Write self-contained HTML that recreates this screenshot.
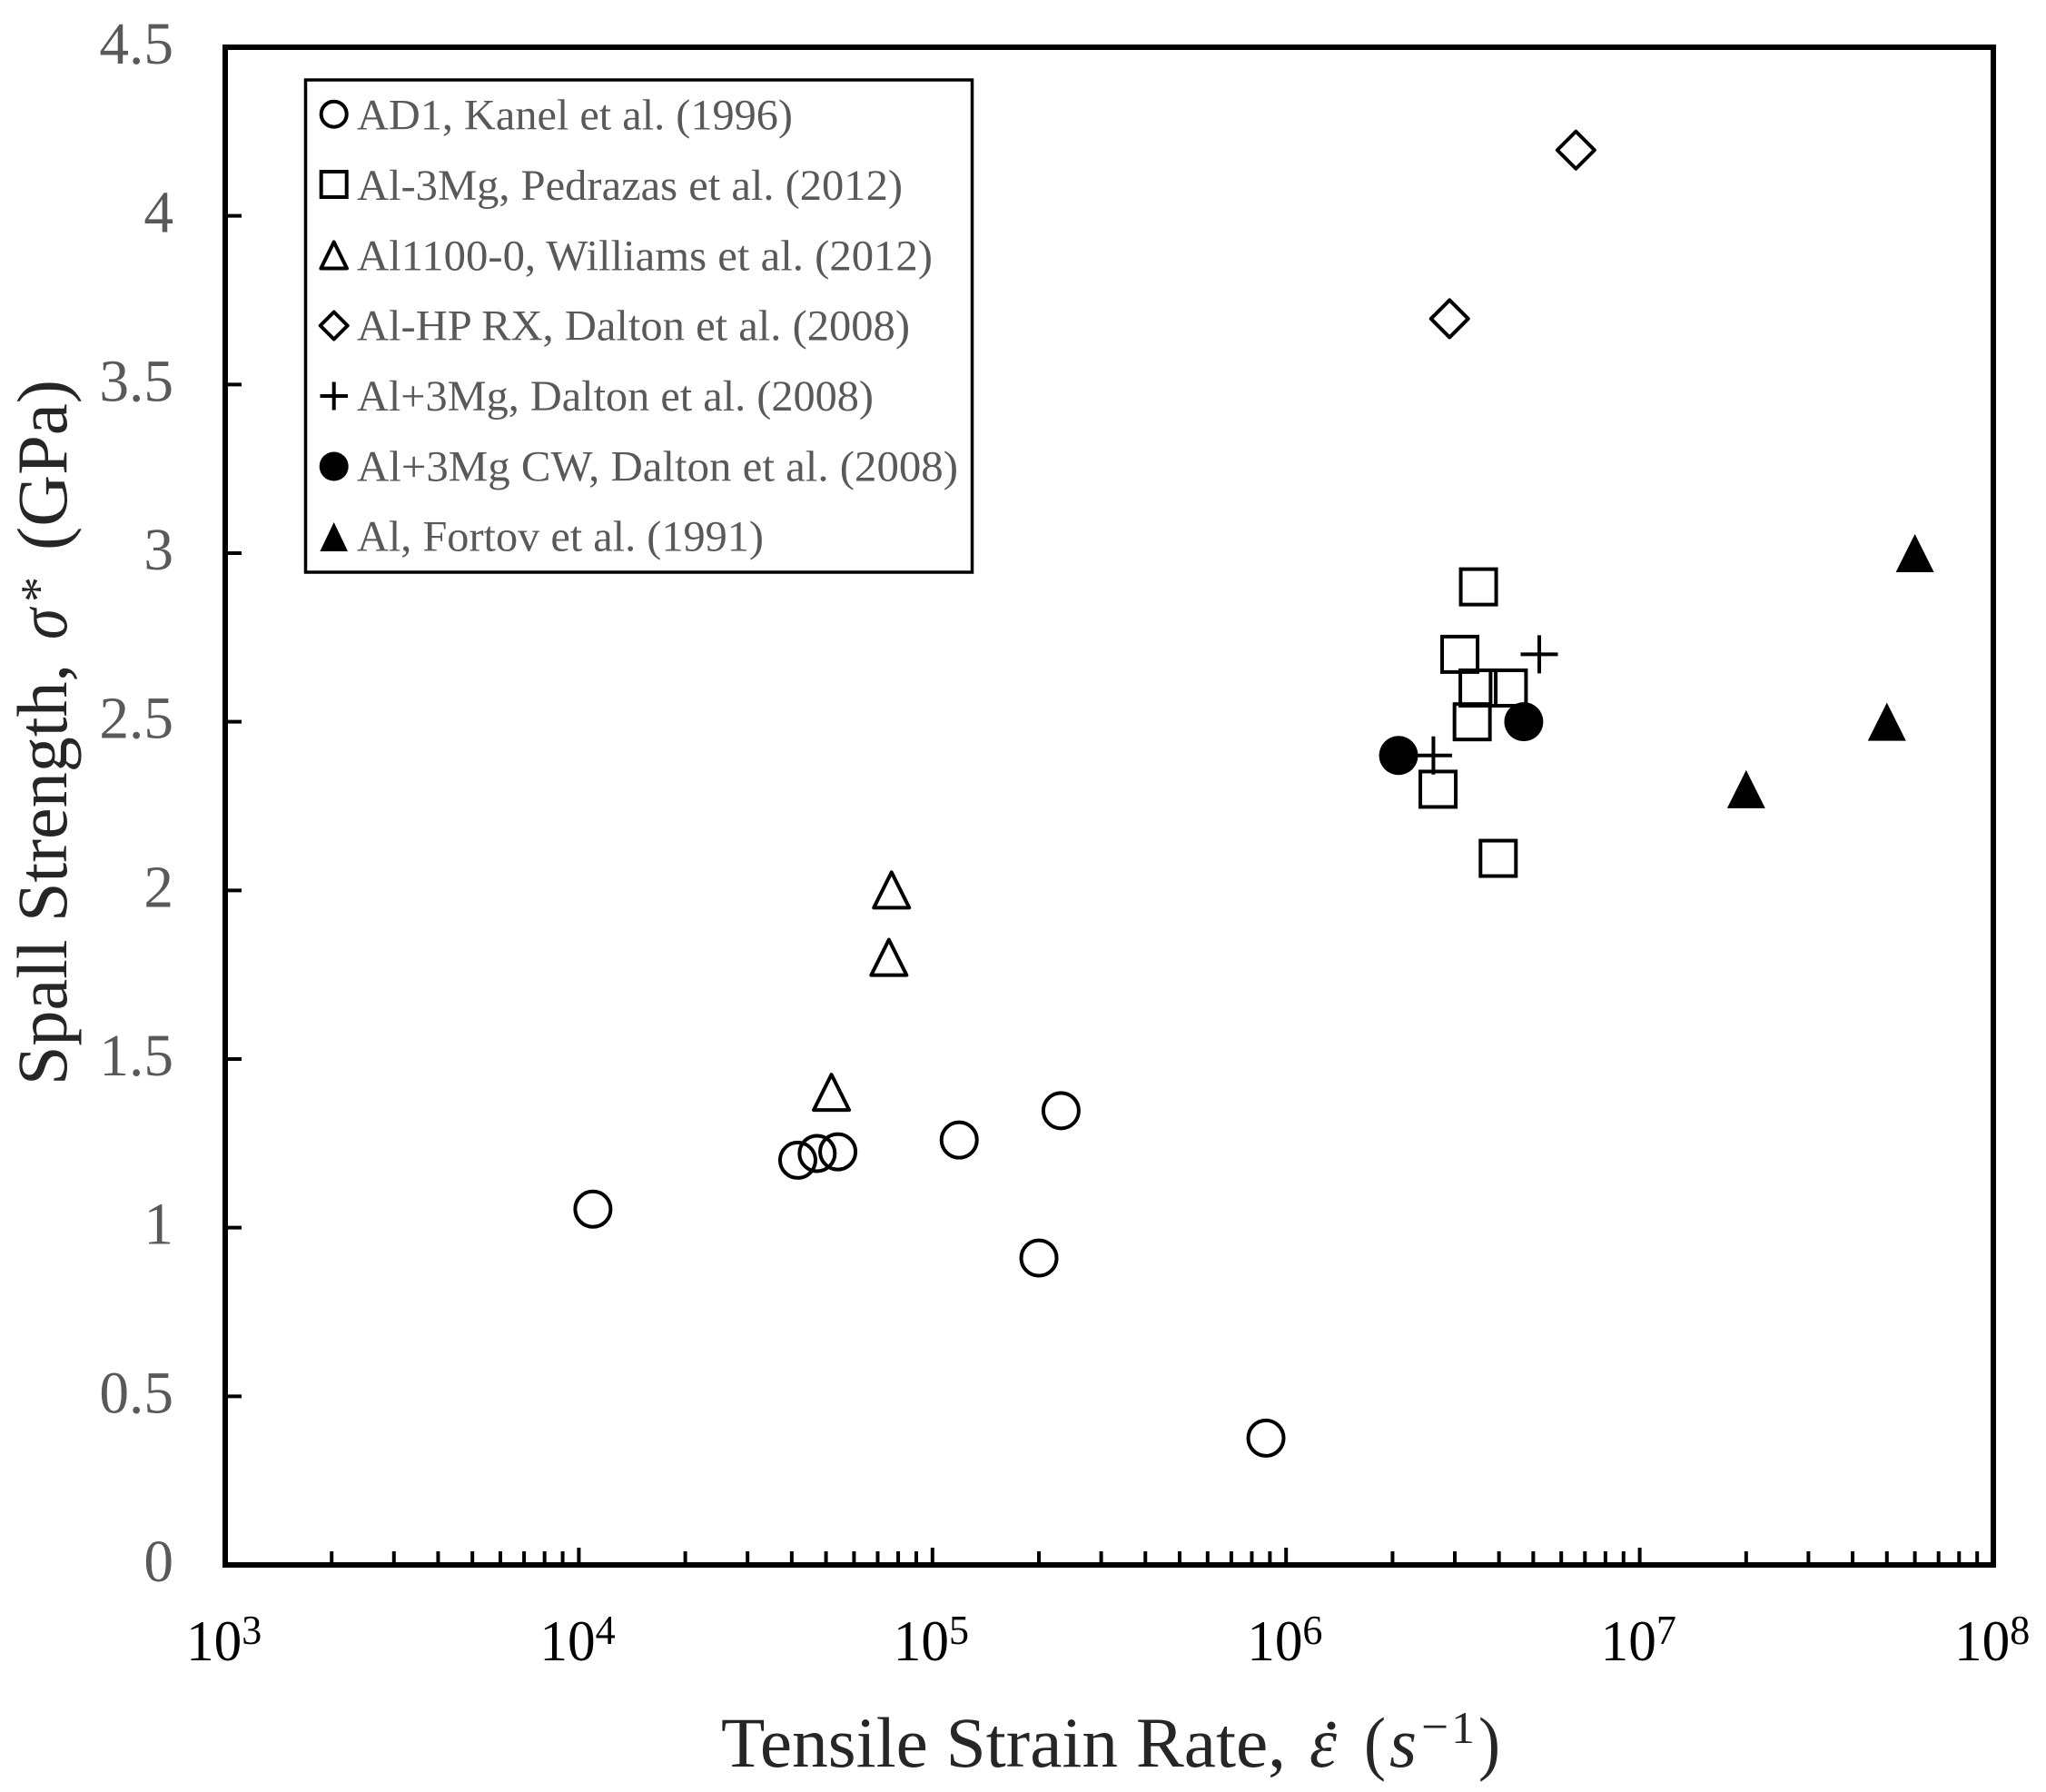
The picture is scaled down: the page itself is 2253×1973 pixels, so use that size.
<!DOCTYPE html>
<html lang="en">
<head>
<meta charset="utf-8">
<title>Spall Strength vs Tensile Strain Rate</title>
<style>
html,body{margin:0;padding:0;background:#fff;}
svg{display:block;}
text{font-family:"Liberation Serif",serif;}
.title{fill:#262626;font-size:78px;}
.legend{fill:#595959;font-size:48px;}
</style>
</head>
<body>
<svg id="chart" xmlns="http://www.w3.org/2000/svg" width="2253" height="1973" viewBox="0 0 2253 1973">
  <rect x="0" y="0" width="2253" height="1973" fill="#fff"/>
  <g id="ticks"></g>
  <g id="labels"></g>
  <g id="marks"></g>
  <rect x="248" y="52" width="1947" height="1671" fill="none" stroke="#000" stroke-width="6"/>

  <g class="title">
    <text x="794" y="1945" textLength="622" lengthAdjust="spacingAndGlyphs">Tensile Strain Rate,</text>
    <text x="1442" y="1945" font-style="italic" textLength="30" lengthAdjust="spacingAndGlyphs">ε</text>
    <circle cx="1466" cy="1900" r="4.5" fill="#262626"/>
    <text x="1502" y="1945" textLength="24" lengthAdjust="spacingAndGlyphs">(</text>
    <text x="1530" y="1945" font-style="italic" textLength="30" lengthAdjust="spacingAndGlyphs">s</text>
    <text x="1565" y="1919" font-size="54" textLength="30" lengthAdjust="spacingAndGlyphs">−</text>
    <text x="1598" y="1919" font-size="50" textLength="26" lengthAdjust="spacingAndGlyphs">1</text>
    <text x="1628" y="1945" textLength="24" lengthAdjust="spacingAndGlyphs">)</text>
  </g>

  <g class="title">
    <text transform="translate(73,1195) rotate(-90)" textLength="464" lengthAdjust="spacingAndGlyphs">Spall Strength,</text>
    <text transform="translate(73,704) rotate(-90)" font-style="italic" textLength="34" lengthAdjust="spacingAndGlyphs">σ</text>
    <text transform="translate(61,663) rotate(-90)" font-size="56" textLength="28" lengthAdjust="spacingAndGlyphs">*</text>
    <text transform="translate(73,606) rotate(-90)" textLength="188" lengthAdjust="spacingAndGlyphs">(GPa)</text>
  </g>

  <g>
    <rect x="336.5" y="88" width="734" height="542" fill="#fff" stroke="#000" stroke-width="3.5"/>
    <g>
      <circle cx="367.7" cy="125.7" r="14" fill="none" stroke="#000" stroke-width="4"/>
      <text class="legend" x="393" y="142.7" textLength="480" lengthAdjust="spacingAndGlyphs">AD1, Kanel et al. (1996)</text>
    </g>
    <g>
      <rect x="353.7" y="189" width="28" height="28" fill="none" stroke="#000" stroke-width="4"/>
      <text class="legend" x="393" y="220" textLength="601" lengthAdjust="spacingAndGlyphs">Al-3Mg, Pedrazas et al. (2012)</text>
    </g>
    <g>
      <polygon points="367.7,266.5 382,295.5 353.4,295.5" fill="none" stroke="#000" stroke-width="4" stroke-linejoin="round"/>
      <text class="legend" x="393" y="297.3" textLength="634" lengthAdjust="spacingAndGlyphs">Al1100-0, Williams et al. (2012)</text>
    </g>
    <g>
      <polygon points="367.7,343.5 382.7,358.5 367.7,373.5 352.7,358.5" fill="none" stroke="#000" stroke-width="4" stroke-linejoin="round"/>
      <text class="legend" x="393" y="374.6" textLength="609" lengthAdjust="spacingAndGlyphs">Al-HP RX, Dalton et al. (2008)</text>
    </g>
    <g>
      <path d="M352.5 436H383M367.7 420.5V451.5" fill="none" stroke="#000" stroke-width="4"/>
      <text class="legend" x="393" y="452" textLength="569" lengthAdjust="spacingAndGlyphs">Al+3Mg, Dalton et al. (2008)</text>
    </g>
    <g>
      <circle cx="367.7" cy="513.5" r="16" fill="#000"/>
      <text class="legend" x="393" y="529.3" textLength="662" lengthAdjust="spacingAndGlyphs">Al+3Mg CW, Dalton et al. (2008)</text>
    </g>
    <g>
      <polygon points="367.7,575 383,607 352.4,607" fill="#000"/>
      <text class="legend" x="393" y="606.6" textLength="448" lengthAdjust="spacingAndGlyphs">Al, Fortov et al. (1991)</text>
    </g>
  </g>
</svg>
<script>
// Chart data
const kanelRate = [1.096e4, 4.16e4, 4.72e4, 5.4e4, 1.19e5, 2.31e5, 2.0e5, 8.77e5];
const kanelStrength = [1.055, 1.2, 1.22, 1.225, 1.26, 1.347, 0.91, 0.376];
const pedrazasRate = [3.5e6, 3.1e6, 3.49e6, 4.25e6, 3.36e6, 2.69e6, 3.98e6];
const pedrazasStrength = [2.9, 2.7, 2.6, 2.6, 2.5, 2.3, 2.095];
const williamsRate = [7.66e4, 7.53e4, 5.18e4];
const williamsStrength = [2.0, 1.8, 1.4];
const daltonHpRate = [6.6e6, 2.9e6];
const daltonHpStrength = [4.195, 3.695];
const daltonMgRate = [5.2e6, 2.61e6];
const daltonMgStrength = [2.7, 2.4];
const daltonCwRate = [4.7e6, 2.08e6];
const daltonCwStrength = [2.5, 2.4];
const fortovRate = [6.0e7, 5.0e7, 2.0e7];
const fortovStrength = [3.0, 2.5, 2.3];
const yTickValues = [4.5, 4, 3.5, 3, 2.5, 2, 1.5, 1, 0.5, 0];
const yTickLabels = ['4.5', '4', '3.5', '3', '2.5', '2', '1.5', '1', '0.5', '0'];
const xTickExponents = [3, 4, 5, 6, 7, 8];
const xMinorMultipliers = [2, 3, 4, 5, 6, 7, 8, 9];

const SVG_NS = 'http://www.w3.org/2000/svg';
const plotLeft = 248, plotRight = 2195, plotTop = 52, plotBottom = 1723;
const xMinLog = 3, xMaxLog = 8, yMin = 0, yMax = 4.5;

function xScale(rate) {
  return plotLeft + (Math.log10(rate) - xMinLog) / (xMaxLog - xMinLog) * (plotRight - plotLeft);
}
function yScale(strength) {
  return plotBottom - (strength - yMin) / (yMax - yMin) * (plotBottom - plotTop);
}
function shapeFor(kind, x, y) {
  let el;
  if (kind === 'circle' || kind === 'filled-circle') {
    el = document.createElementNS(SVG_NS, 'circle');
    el.setAttribute('cx', x);
    el.setAttribute('cy', y);
    el.setAttribute('r', kind === 'circle' ? 19.5 : 21.5);
  } else if (kind === 'square') {
    el = document.createElementNS(SVG_NS, 'rect');
    el.setAttribute('x', x - 19.5);
    el.setAttribute('y', y - 19.5);
    el.setAttribute('width', 39);
    el.setAttribute('height', 39);
  } else if (kind === 'triangle') {
    el = document.createElementNS(SVG_NS, 'polygon');
    el.setAttribute('points', [x, y - 20, x + 19.5, y + 19, x - 19.5, y + 19].join(' '));
  } else if (kind === 'filled-triangle') {
    el = document.createElementNS(SVG_NS, 'polygon');
    el.setAttribute('points', [x, y - 21, x + 21, y + 21, x - 21, y + 21].join(' '));
  } else if (kind === 'diamond') {
    el = document.createElementNS(SVG_NS, 'polygon');
    el.setAttribute('points', [x, y - 20.5, x + 20.5, y, x, y + 20.5, x - 20.5, y].join(' '));
  } else {
    el = document.createElementNS(SVG_NS, 'path');
    el.setAttribute('d', 'M' + (x - 20.5) + ' ' + y + 'H' + (x + 20.5) + 'M' + x + ' ' + (y - 21) + 'V' + (y + 21));
  }
  const filled = kind.indexOf('filled') === 0;
  el.setAttribute('fill', filled ? '#000' : 'none');
  el.setAttribute('stroke', filled ? 'none' : '#000');
  el.setAttribute('stroke-width', 4);
  el.setAttribute('stroke-linejoin', kind === 'square' ? 'miter' : 'round');
  return el;
}
function drawSeries(name, kind, rates, strengths) {
  const marks = document.getElementById('marks');
  const group = document.createElementNS(SVG_NS, 'g');
  
  
  rates.forEach(function (rate, i) {
    const el = shapeFor(kind, xScale(rate), yScale(strengths[i]));
    
    
    group.appendChild(el);
  });
  marks.appendChild(group);
}
function drawTickLine(x1, y1, x2, y2, name) {
  const line = document.createElementNS(SVG_NS, 'line');
  line.setAttribute('x1', x1);
  line.setAttribute('y1', y1);
  line.setAttribute('x2', x2);
  line.setAttribute('y2', y2);
  line.setAttribute('stroke', '#000');
  line.setAttribute('stroke-width', 4);
  
  
  document.getElementById('ticks').appendChild(line);
}
function drawAxes() {
  const labels = document.getElementById('labels');
  yTickValues.forEach(function (value, i) {
    const y = yScale(value);
    if (value > yMin && value < yMax) {
      drawTickLine(plotLeft, y, plotLeft + 18, y, 'y-tick');
    }
    const t = document.createElementNS(SVG_NS, 'text');
    t.setAttribute('transform', 'translate(191,' + (y + 18) + ') scale(0.99,1)');
    t.setAttribute('text-anchor', 'end');
    t.setAttribute('font-size', 66);
    t.setAttribute('fill', '#595959');
    
    
    t.textContent = yTickLabels[i];
    labels.appendChild(t);
  });
  xTickExponents.forEach(function (exp) {
    const base = Math.pow(10, exp);
    const x = xScale(base);
    if (exp > xMinLog && exp < xMaxLog) {
      drawTickLine(x, plotBottom, x, plotBottom - 19, 'x-major-tick');
    }
    if (exp < xMaxLog) {
      xMinorMultipliers.forEach(function (m) {
        const mx = xScale(base * m);
        drawTickLine(mx, plotBottom, mx, plotBottom - 15, 'x-minor-tick');
      });
    }
    const t = document.createElementNS(SVG_NS, 'text');
    t.setAttribute('transform', 'translate(' + (x - 43) + ',1828) scale(0.957,1)');
    t.setAttribute('font-size', 64);
    t.setAttribute('fill', '#000');
    
    
    t.textContent = '10';
    const sup = document.createElementNS(SVG_NS, 'tspan');
    sup.setAttribute('font-size', 46);
    sup.setAttribute('dy', -18);
    sup.textContent = String(exp);
    t.appendChild(sup);
    labels.appendChild(t);
  });
}
drawAxes();
drawSeries('kanel-1996', 'circle', kanelRate, kanelStrength);
drawSeries('pedrazas-2012', 'square', pedrazasRate, pedrazasStrength);
drawSeries('williams-2012', 'triangle', williamsRate, williamsStrength);
drawSeries('dalton-hp-rx-2008', 'diamond', daltonHpRate, daltonHpStrength);
drawSeries('dalton-mg-2008', 'plus', daltonMgRate, daltonMgStrength);
drawSeries('dalton-mg-cw-2008', 'filled-circle', daltonCwRate, daltonCwStrength);
drawSeries('fortov-1991', 'filled-triangle', fortovRate, fortovStrength);
</script>
</body>
</html>
